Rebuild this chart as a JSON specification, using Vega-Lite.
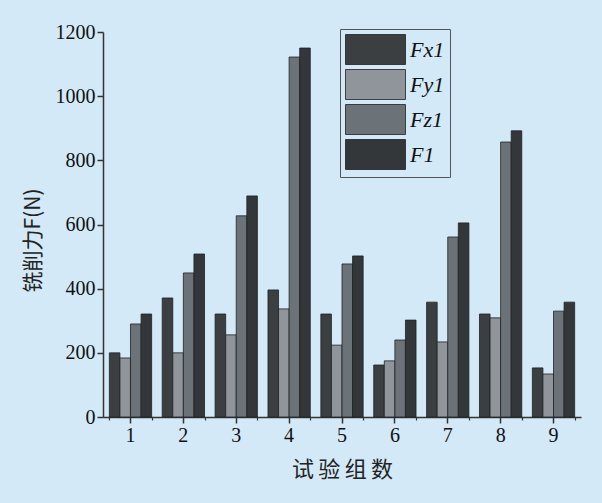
{
  "$schema": "https://vega.github.io/schema/vega-lite/v6.json",
  "width": 478,
  "height": 385,
  "autosize": {"type": "none"},
  "padding": {"left": 103, "top": 32, "right": 21, "bottom": 86},
  "background": "#d4e9f7",
  "config": {"view": {"stroke": null}, "font": "Liberation Serif"},
  "data": {
    "values": [
      {"group": "1", "force": "Fx1", "value": 200},
      {"group": "1", "force": "Fy1", "value": 184},
      {"group": "1", "force": "Fz1", "value": 290},
      {"group": "1", "force": "F1", "value": 321},
      {"group": "2", "force": "Fx1", "value": 371},
      {"group": "2", "force": "Fy1", "value": 200},
      {"group": "2", "force": "Fz1", "value": 449},
      {"group": "2", "force": "F1", "value": 508},
      {"group": "3", "force": "Fx1", "value": 321},
      {"group": "3", "force": "Fy1", "value": 256},
      {"group": "3", "force": "Fz1", "value": 627},
      {"group": "3", "force": "F1", "value": 689},
      {"group": "4", "force": "Fx1", "value": 396},
      {"group": "4", "force": "Fy1", "value": 337},
      {"group": "4", "force": "Fz1", "value": 1122},
      {"group": "4", "force": "F1", "value": 1150},
      {"group": "5", "force": "Fx1", "value": 321},
      {"group": "5", "force": "Fy1", "value": 224},
      {"group": "5", "force": "Fz1", "value": 477},
      {"group": "5", "force": "F1", "value": 502},
      {"group": "6", "force": "Fx1", "value": 162},
      {"group": "6", "force": "Fy1", "value": 175},
      {"group": "6", "force": "Fz1", "value": 240},
      {"group": "6", "force": "F1", "value": 302},
      {"group": "7", "force": "Fx1", "value": 358},
      {"group": "7", "force": "Fy1", "value": 234},
      {"group": "7", "force": "Fz1", "value": 561},
      {"group": "7", "force": "F1", "value": 605},
      {"group": "8", "force": "Fx1", "value": 321},
      {"group": "8", "force": "Fy1", "value": 309},
      {"group": "8", "force": "Fz1", "value": 857},
      {"group": "8", "force": "F1", "value": 892},
      {"group": "9", "force": "Fx1", "value": 153},
      {"group": "9", "force": "Fy1", "value": 134},
      {"group": "9", "force": "Fz1", "value": 330},
      {"group": "9", "force": "F1", "value": 358}
    ]
  },
  "resolve": {"axis": {"x": "independent"}},
  "layer": [
    {
      "mark": {"type": "bar", "opacity": 0},
      "encoding": {
        "x": {
          "field": "group",
          "type": "ordinal",
          "scale": {"paddingInner": 0.2, "paddingOuter": 0.12},
          "axis": {
            "orient": "bottom",
            "title": null,
            "labels": false,
            "domain": false,
            "tickBand": "extent",
            "tickColor": "#333",
            "tickWidth": 1.2,
            "tickSize": 3
          }
        },
        "y": {"field": "value", "type": "quantitative", "scale": {"domain": [0, 1200], "nice": false}}
      }
    },
    {
      "mark": {"type": "bar", "stroke": "#1e2124", "strokeWidth": 0.8},
      "encoding": {
        "x": {
          "field": "group",
          "type": "ordinal",
          "scale": {"paddingInner": 0.2, "paddingOuter": 0.12},
          "axis": {
            "orient": "bottom",
            "title": "试\u2009验\u2009组\u2009数",
            "titleFont": "Noto Sans CJK SC",
            "titleFontSize": 22,
            "titleFontWeight": "normal",
            "titleColor": "#222",
            "titlePadding": 14,
            "labelAngle": 0,
            "labelFont": "Liberation Serif",
            "labelFontSize": 20,
            "labelColor": "#111",
            "labelPadding": 2,
            "domainColor": "#333",
            "domainWidth": 1.5,
            "tickColor": "#333",
            "tickWidth": 1.5,
            "tickSize": 6
          }
        },
        "xOffset": {
          "field": "force",
          "type": "nominal",
          "sort": ["Fx1", "Fy1", "Fz1", "F1"],
          "scale": {"paddingInner": 0, "paddingOuter": 0}
        },
        "y": {
          "field": "value",
          "type": "quantitative",
          "scale": {"domain": [0, 1200], "nice": false},
          "axis": {
            "title": "铣削力F(N)",
            "titleFont": "Noto Sans CJK SC",
            "titleFontSize": 21,
            "titleFontWeight": "normal",
            "titleColor": "#222",
            "titlePadding": 12,
            "titleY": 208,
            "values": [0, 100, 200, 300, 400, 500, 600, 700, 800, 900, 1000, 1100, 1200],
            "format": "d",
            "labelExpr": "datum.value % 200 === 0 ? datum.label : ''",
            "labelFont": "Liberation Serif",
            "labelFontSize": 20,
            "labelColor": "#111",
            "labelPadding": 2,
            "grid": false,
            "domainColor": "#333",
            "domainWidth": 1.5,
            "tickColor": "#333",
            "tickWidth": 1.5,
            "tickSize": {"condition": {"test": "datum.value % 200 === 0", "value": 6}, "value": 3}
          }
        },
        "color": {
          "field": "force",
          "type": "nominal",
          "scale": {
            "domain": ["Fx1", "Fy1", "Fz1", "F1"],
            "range": ["#3b3f42", "#8f959a", "#6c7378", "#33373a"]
          },
          "legend": {
            "title": null,
            "orient": "none",
            "legendX": 237,
            "legendY": -3,
            "symbolType": "M-1,-1H3V1H-1Z",
            "symbolSize": 900,
            "symbolStrokeColor": "#1e2124",
            "symbolStrokeWidth": 0.8,
            "symbolOpacity": 1,
            "labelFont": "Liberation Serif",
            "labelFontStyle": "italic",
            "labelFontSize": 22,
            "labelColor": "#111",
            "labelOffset": 34,
            "labelExpr": "datum.label + '\u2003\u2009'",
            "strokeColor": "#555",
            "padding": 5,
            "rowPadding": 0
          }
        }
      }
    }
  ]
}
